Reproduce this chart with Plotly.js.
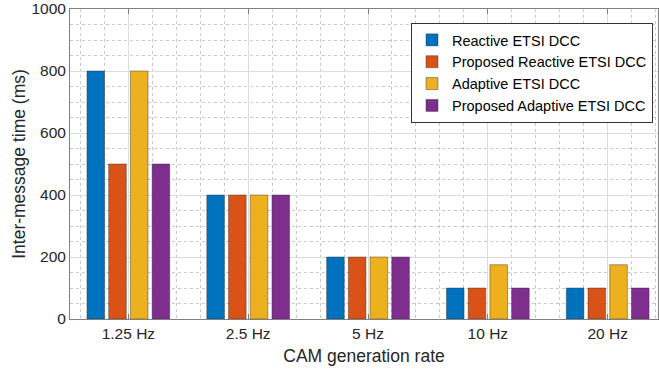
<!DOCTYPE html>
<html>
<head>
<meta charset="utf-8">
<script src="https://cdn.plot.ly/plotly-3.0.1.min.js"></script>
<style>html,body{margin:0;padding:0;background:#fff;}#chart{width:659px;height:372px;}</style>
</head>
<body>
<div id="chart"></div>
<script>
const categories = ["1.25 Hz", "2.5 Hz", "5 Hz", "10 Hz", "20 Hz"];
const seriesNames = ["Reactive ETSI DCC", "Proposed Reactive ETSI DCC", "Adaptive ETSI DCC", "Proposed Adaptive ETSI DCC"];
const reactive = [800, 400, 200, 100, 100];
const proposedReactive = [500, 400, 200, 100, 100];
const adaptive = [800, 400, 200, 175, 175];
const proposedAdaptive = [500, 400, 200, 100, 100];
const colors = ["#0072BD", "#D95319", "#EDB120", "#7E2F8E"];
const yTicks = [0, 200, 400, 600, 800, 1000];

const xPos = categories.map((c, i) => i + 1);
const allSeries = [reactive, proposedReactive, adaptive, proposedAdaptive];
const font = "'Liberation Sans', Arial, Helvetica, sans-serif";

const traces = allSeries.map((vals, k) => ({
  type: "bar",
  name: seriesNames[k],
  x: xPos,
  y: vals,
  marker: { color: colors[k], line: { color: "rgba(40,40,40,0.7)", width: 0.6 } },
  hoverinfo: "y"
}));

const layout = {
  width: 659, height: 372,
  margin: { l: 70, r: 1, t: 9, b: 53 },
  paper_bgcolor: "#ffffff",
  plot_bgcolor: "#ffffff",
  font: { family: font, size: 15, color: "#262626" },
  barmode: "group",
  bargap: 0.275,
  bargroupgap: 0.19,
  showlegend: true,
  legend: {
    x: 0.9915, xanchor: "right", y: 0.955, yanchor: "top",
    bgcolor: "#ffffff", bordercolor: "#333333", borderwidth: 1,
    font: { family: font, size: 14.5, color: "#000000" },
    tracegroupgap: 0, traceorder: "normal"
  },
  xaxis: {
    range: [0.513, 5.42],
    tickmode: "array", tickvals: xPos, ticktext: categories,
    ticks: "inside", ticklen: 5, tickcolor: "#808080", tickwidth: 1,
    showline: true, linecolor: "#808080", linewidth: 1, mirror: "ticks",
    showgrid: true, gridcolor: "#dcdcdc", gridwidth: 1,
    minor: { dtick: 0.2, tick0: 0, showgrid: true, gridcolor: "#c8c8c8", griddash: "dot", gridwidth: 1, ticks: "" },
    zeroline: false,
    tickfont: { family: font, size: 15.5, color: "#262626" },
    title: { text: "CAM generation rate", font: { family: font, size: 17.5, color: "#262626" }, standoff: 9 }
  },
  yaxis: {
    range: [0, 1000],
    tickmode: "array", tickvals: yTicks,
    ticks: "", showline: true, linecolor: "#808080", linewidth: 1, mirror: true,
    showgrid: true, gridcolor: "#dcdcdc", gridwidth: 1,
    minor: { dtick: 50, tick0: 0, showgrid: true, gridcolor: "#c8c8c8", griddash: "dot", gridwidth: 1, ticks: "" },
    zeroline: false,
    tickfont: { family: font, size: 15.5, color: "#262626" },
    title: { text: "Inter-message time (ms)", font: { family: font, size: 17.5, color: "#262626" }, standoff: 1 }
  }
};

Plotly.newPlot("chart", traces, layout, { displayModeBar: false, staticPlot: true });
</script>
</body>
</html>
